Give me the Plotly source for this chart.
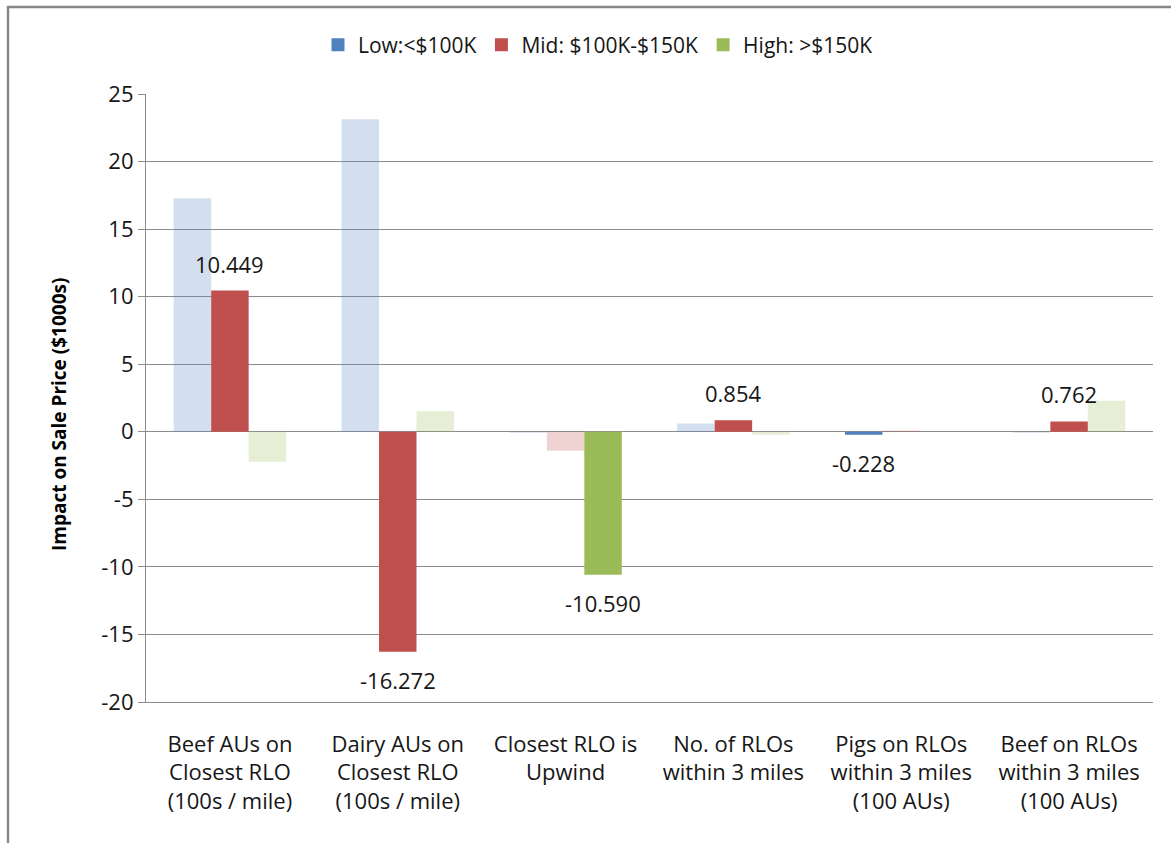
import plotly.graph_objects as go

# ---- data ----
categories = [
    "Beef AUs on<br>Closest RLO<br>(100s / mile)",
    "Dairy AUs on<br>Closest RLO<br>(100s / mile)",
    "Closest RLO is<br>Upwind",
    "No. of RLOs<br>within 3 miles",
    "Pigs on RLOs<br>within 3 miles<br>(100 AUs)",
    "Beef on RLOs<br>within 3 miles<br>(100 AUs)",
]
series_names = ["Low:<$100K", "Mid: $100K-$150K", "High: >$150K"]
low_vals = [17.29, 23.14, -0.08, 0.62, -0.228, -0.08]
mid_vals = [10.449, -16.272, -1.41, 0.854, 0.10, 0.762]
high_vals = [-2.22, 1.52, -10.590, -0.22, 0.0, 2.30]
# significant estimates are drawn solid and labelled; others are faded
low_sig = [False, False, False, False, True, False]
mid_sig = [True, True, False, True, False, True]
high_sig = [False, False, True, False, False, False]
y_ticks = [25, 20, 15, 10, 5, 0, -5, -10, -15, -20]
y_title = "Impact on Sale Price ($1000s)"

# ---- styling ----
W, H = 1171, 843
ML, MR, MT, MB = 146, 18, 94, 141
BARGAP = 0.33
FONT = "Open Sans, Liberation Sans, sans-serif"
TEXT = "#161616"
GRID = "#8c8c8c"
rgb = [(79, 129, 189), (192, 80, 77), (155, 187, 89)]

values = [low_vals, mid_vals, high_vals]
sigs = [low_sig, mid_sig, high_sig]

fig = go.Figure()
for name, vals, sig, (r, g, b) in zip(series_names, values, sigs, rgb):
    colors = [f"rgb({r},{g},{b})" if s else f"rgba({r},{g},{b},0.25)" for s in sig]
    fig.add_trace(go.Bar(
        name=name, x=categories, y=vals, legendgroup=name, showlegend=False,
        marker=dict(color=colors, line=dict(width=0)),
        hoverinfo="x+y",
    ))

# legend entries with the solid series colour
for name, (r, g, b) in zip(series_names, rgb):
    fig.add_trace(go.Scatter(
        name=name, x=[None], y=[None], mode="markers", legendgroup=name,
        marker=dict(symbol="square", size=13, color=f"rgb({r},{g},{b})"),
        hoverinfo="skip",
    ))

# value labels for significant bars
plot_w = W - ML - MR
plot_h = H - MT - MB
cat_w = plot_w / len(categories)
bar_w = cat_w * (1 - BARGAP) / 3
annotations = []
for k, (vals, sig) in enumerate(zip(values, sigs)):
    for i, (v, s) in enumerate(zip(vals, sig)):
        if not s:
            continue
        annotations.append(dict(
            x=categories[i], y=v, xref="x", yref="y",
            text=f"{v:.3f}", showarrow=False,
            xshift=(k - 1) * bar_w, yshift=27 if v > 0 else -28,
            yanchor="middle", xanchor="center",
            font=dict(family=FONT, size=22, color=TEXT),
        ))


def px_x(p):
    return (p - ML) / plot_w


def px_y(p):
    return (H - MB - p) / plot_h


# rotated value-axis title
annotations.append(dict(
    text=f"<b>{y_title}</b>", textangle=-90, showarrow=False,
    xref="paper", yref="paper", x=px_x(59), y=px_y(415),
    xanchor="center", yanchor="middle",
    font=dict(family=FONT, size=19, color="#000000"),
))

fig.update_layout(
    width=W, height=H,
    margin=dict(l=ML, r=MR, t=MT, b=MB, pad=0),
    paper_bgcolor="white", plot_bgcolor="white",
    barmode="group", bargap=BARGAP, bargroupgap=0,
    font=dict(family=FONT, size=22, color=TEXT),
    showlegend=True,
    legend=dict(
        orientation="h", x=px_x(598), xanchor="center",
        y=px_y(45), yanchor="middle",
        font=dict(family=FONT, size=21, color=TEXT),
        itemwidth=30, traceorder="normal",
        bgcolor="rgba(0,0,0,0)",
    ),
    annotations=annotations,
    # outer chart border
    shapes=[dict(
        type="rect", xref="paper", yref="paper",
        x0=px_x(8), x1=px_x(1200), y0=px_y(900), y1=px_y(7),
        line=dict(color="#878787", width=2.5), fillcolor="rgba(0,0,0,0)",
        layer="below",
    )],
)

fig.update_yaxes(
    range=[-20, 25], tickvals=y_ticks, ticktext=[str(t) for t in y_ticks],
    showgrid=True, gridcolor=GRID, gridwidth=1.2,
    zeroline=False,
    showline=True, linecolor=GRID, linewidth=1.2,
    ticks="outside", ticklen=7, tickcolor=GRID, tickwidth=1.2,
    tickfont=dict(family=FONT, size=22, color=TEXT),
)
fig.update_xaxes(
    showgrid=False, zeroline=False,
    showline=True, linecolor=GRID, linewidth=1.2,
    ticks="", ticklabelstandoff=22,
    tickfont=dict(family=FONT, size=22, color=TEXT),
)

fig.write_html("out.html")
